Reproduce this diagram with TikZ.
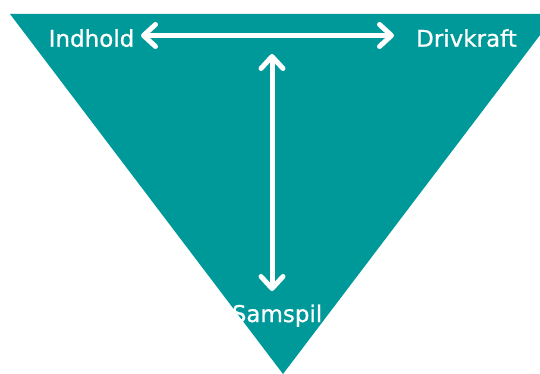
\documentclass[tikz,border=0pt]{standalone}
\usepackage{fontspec}
\setmainfont[FakeBold=0.8]{DejaVu Sans}
\usetikzlibrary{arrows.meta}

\definecolor{teal}{RGB}{0,153,153}

\tikzset{
    word/.style={text=white, inner sep=0pt, anchor=base, font=\fontsize{23}{27}\selectfont},
    pil/.style={white, line width=5pt, {Straight Barb[length=12pt,width=22pt,round]}-{Straight Barb[length=12pt,width=22pt,round]}}
}

\begin{document}
\begin{tikzpicture}[x=1pt, y=-1pt]
    \useasboundingbox (0,0) rectangle (540,374);
    \clip (0,0) rectangle (540,374);
    \fill[teal] (10,14) -- (556,14) -- (283,374) -- cycle;
    \node[word] (indhold) at (91.5,46.7) {Indhold};
    \node[word] (drivkraft) at (466.5,46.7) {Drivkraft};
    \node[word] (samspil) at (277,322) {Samspil};
    \coordinate (venstre) at (141,35.5);
    \coordinate (hoejre) at (394,35.5);
    \coordinate (top) at (272,54);
    \coordinate (bund) at (272,291);
    \draw[pil] (venstre) -- (hoejre);
    \draw[pil] (top) -- (bund);
\end{tikzpicture}
\end{document}
